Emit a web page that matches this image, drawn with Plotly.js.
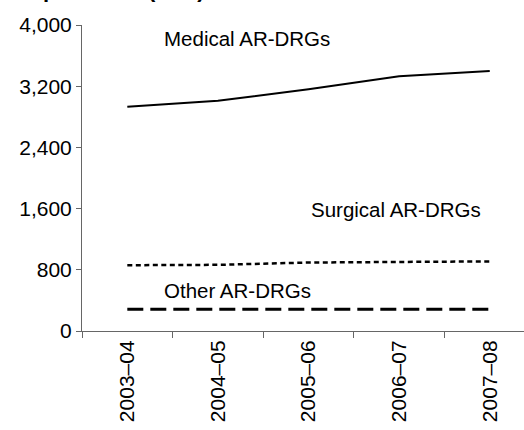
<!DOCTYPE html>
<html>
<head>
<meta charset="utf-8">
<script src="https://cdn.plot.ly/plotly-3.0.1.min.js"></script>
<style>html,body{margin:0;padding:0;background:#fff;}#chart{width:524px;height:430px;}</style>
</head>
<body>
<div id="chart"></div>
<script>
var years = ["2003–04", "2004–05", "2005–06", "2006–07", "2007–08"];
var medical = [2930, 3010, 3160, 3330, 3400];
var surgical = [860, 865, 895, 905, 910];
var other = [285, 285, 285, 285, 285];
var yTicks = [0, 800, 1600, 2400, 3200, 4000];
var seriesLabels = ["Medical AR-DRGs", "Surgical AR-DRGs", "Other AR-DRGs"];
var yTitle = "Separations ('000)";

var font = "Liberation Sans, Arial, sans-serif";
var traces = [
  {x: years, y: medical, type: "scatter", mode: "lines", name: seriesLabels[0],
   line: {color: "#000", width: 2}},
  {x: years, y: surgical, type: "scatter", mode: "lines", name: seriesLabels[1],
   line: {color: "#000", width: 2.5, dash: "5px,3.5px"}},
  {x: years, y: other, type: "scatter", mode: "lines", name: seriesLabels[2],
   line: {color: "#000", width: 3, dash: "16px,7px"}}
];
var plotW = 524 - 82, plotH = 430 - 25 - 99;
var layout = {
  width: 524, height: 430,
  margin: {l: 82, r: 0, t: 25, b: 99},
  paper_bgcolor: "#fff", plot_bgcolor: "#fff",
  showlegend: false,
  font: {family: font, color: "#000", size: 21},
  xaxis: {
    type: "category", range: [-0.5, 4.378],
    tickson: "boundaries", ticks: "outside", ticklen: 6, tickcolor: "#666",
    tickangle: -90, showgrid: false, zeroline: false,
    showline: true, linecolor: "#666", linewidth: 1,
    tickfont: {family: font, size: 21, color: "#000"}
  },
  yaxis: {
    range: [0, 4000], tickvals: yTicks, tickformat: ",d",
    ticks: "outside", ticklen: 5, tickcolor: "#666",
    showgrid: false, zeroline: false,
    showline: true, linecolor: "#666", linewidth: 1,
    tickfont: {family: font, size: 21, color: "#000"}
  },
  annotations: [
    {text: seriesLabels[0], x: 0.383, y: 3827, xref: "x", yref: "y",
     xanchor: "left", yanchor: "middle", showarrow: false, font: {size: 20.5}},
    {text: seriesLabels[1], x: 2.0, y: 1582, xref: "x", yref: "y",
     xanchor: "left", yanchor: "middle", showarrow: false, font: {size: 20.5}},
    {text: seriesLabels[2], x: 0.383, y: 536, xref: "x", yref: "y",
     xanchor: "left", yanchor: "middle", showarrow: false, font: {size: 20.5}},
    {text: "<b>" + yTitle + "</b>", x: (14 - 82) / plotW, y: (331 - 4) / plotH,
     xref: "paper", yref: "paper", xanchor: "left", yanchor: "bottom",
     showarrow: false, font: {size: 22}}
  ]
};
Plotly.newPlot("chart", traces, layout, {displayModeBar: false, staticPlot: true});
</script>
</body>
</html>
